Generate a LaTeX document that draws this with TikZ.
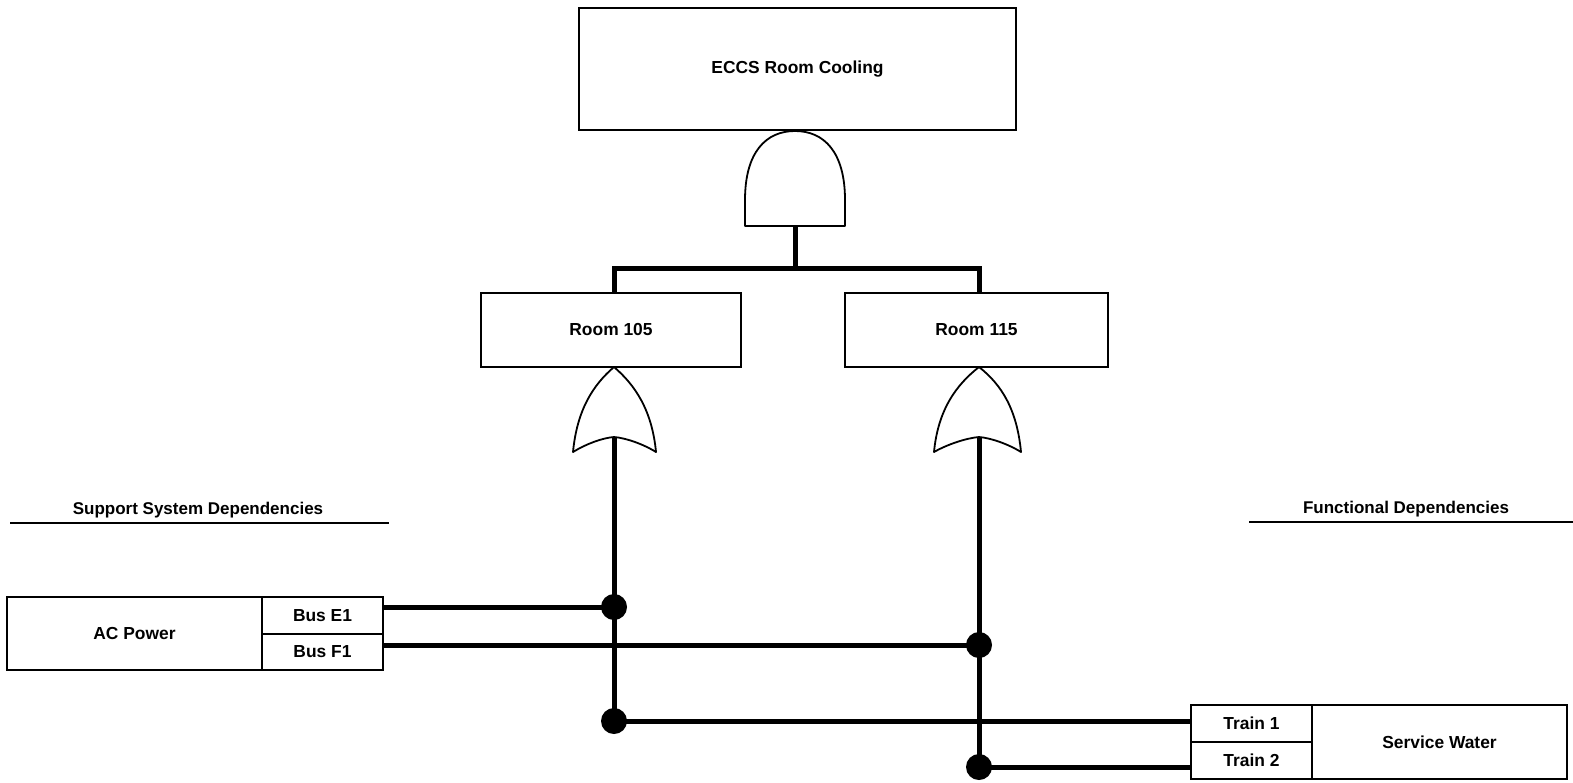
\documentclass[tikz,border=0pt]{standalone}
\usepackage{fontspec}
\setmainfont{Liberation Sans}
\begin{document}
\begin{tikzpicture}[x=0.5pt,y=-0.5pt,
  box/.style={draw, line width=0.9pt, rectangle, inner sep=0pt, outer sep=0pt,
    font=\fontsize{8.7}{10}\bfseries},
  gate/.style={draw, line width=0.9pt, line join=round},
  wire/.style={line width=2.5pt},
  dot/.style={circle, fill, inner sep=0pt, minimum size=13pt},
  head/.style={font=\fontsize{8.5}{10}\bfseries, inner sep=0pt},
  rule/.style={line width=1pt}]
\useasboundingbox (0,0) rectangle (1573,782);

% top event
\node[box, minimum width=218.5pt, minimum height=61pt] (top) at (797.5,69) {ECCS Room Cooling};

% AND gate
\coordinate (andout) at (795,226);
\draw[gate] (745,226) -- (745,200) .. controls (745,152) and (766,131) .. (795,131)
  .. controls (824,131) and (845,152) .. (845,200) -- (845,226) -- cycle;
\coordinate (split) at (795,268);
\coordinate (lft) at (614,268);
\coordinate (rgt) at (979,268);

% room events
\node[box, minimum width=130pt, minimum height=37pt] (r105) at (611,330) {Room 105};
\node[box, minimum width=131.5pt, minimum height=37pt] (r115) at (976.5,330) {Room 115};

\draw[wire, line join=miter] (andout) -- (split);
\draw[wire, line join=miter] (lft |- r105.north) -- (lft) -- (rgt) -- (rgt |- r115.north);

% OR gates
\coordinate (or1) at (614,437);
\draw[gate] (573,452) .. controls (577,410) and (593,385) .. (614,367)
  .. controls (635,385) and (652,410) .. (656,452)
  .. controls (643,444) and (626,438) .. (614,437)
  .. controls (602,438) and (586,444) .. (573,452) -- cycle;
\coordinate (or2) at (979,437);
\draw[gate] (934,452) .. controls (938,410) and (956,385) .. (979,367)
  .. controls (1002,385) and (1017,410) .. (1021,452)
  .. controls (1008,444) and (991,438) .. (979,437)
  .. controls (967,438) and (948,444) .. (934,452) -- cycle;

% section headings
\node[head] (hsup) at (198,510) {Support System Dependencies};
\draw[rule] (10,523) -- (389,523);
\node[head] (hfun) at (1406,509) {Functional Dependencies};
\draw[rule] (1249,522) -- (1573,522);

% AC power
\node[box, minimum width=127.5pt, minimum height=36.5pt] (ac) at (134.5,633.5) {AC Power};
\node[box, minimum width=60.5pt, minimum height=18.5pt] (busE) at (322.5,615.5) {Bus E1};
\node[box, minimum width=60.5pt, minimum height=18pt] (busF) at (322.5,652) {Bus F1};

% service water
\node[box, minimum width=60.5pt, minimum height=18.5pt] (trA) at (1251.5,723.5) {Train 1};
\node[box, minimum width=60.5pt, minimum height=18.5pt] (trB) at (1251.5,760.5) {Train 2};
\node[box, minimum width=127.5pt, minimum height=37pt] (sw) at (1439.5,742) {Service Water};

% junctions
\coordinate (j1) at (614,607);
\coordinate (j2) at (979,645);
\coordinate (j3) at (614,721);
\coordinate (j4) at (979,767);

\draw[wire] (or1) -- (j3);
\draw[wire] (or2) -- (j4);
\draw[wire] (busE.east |- j1) -- (j1);
\draw[wire] (busF.east |- j2) -- (j2);
\draw[wire] (j3) -- (trA.west |- j3);
\draw[wire] (j4) -- (trB.west |- j4);

\node[dot] (d1) at (j1) {};
\node[dot] (d2) at (j2) {};
\node[dot] (d3) at (j3) {};
\node[dot] (d4) at (j4) {};
\end{tikzpicture}
\end{document}
